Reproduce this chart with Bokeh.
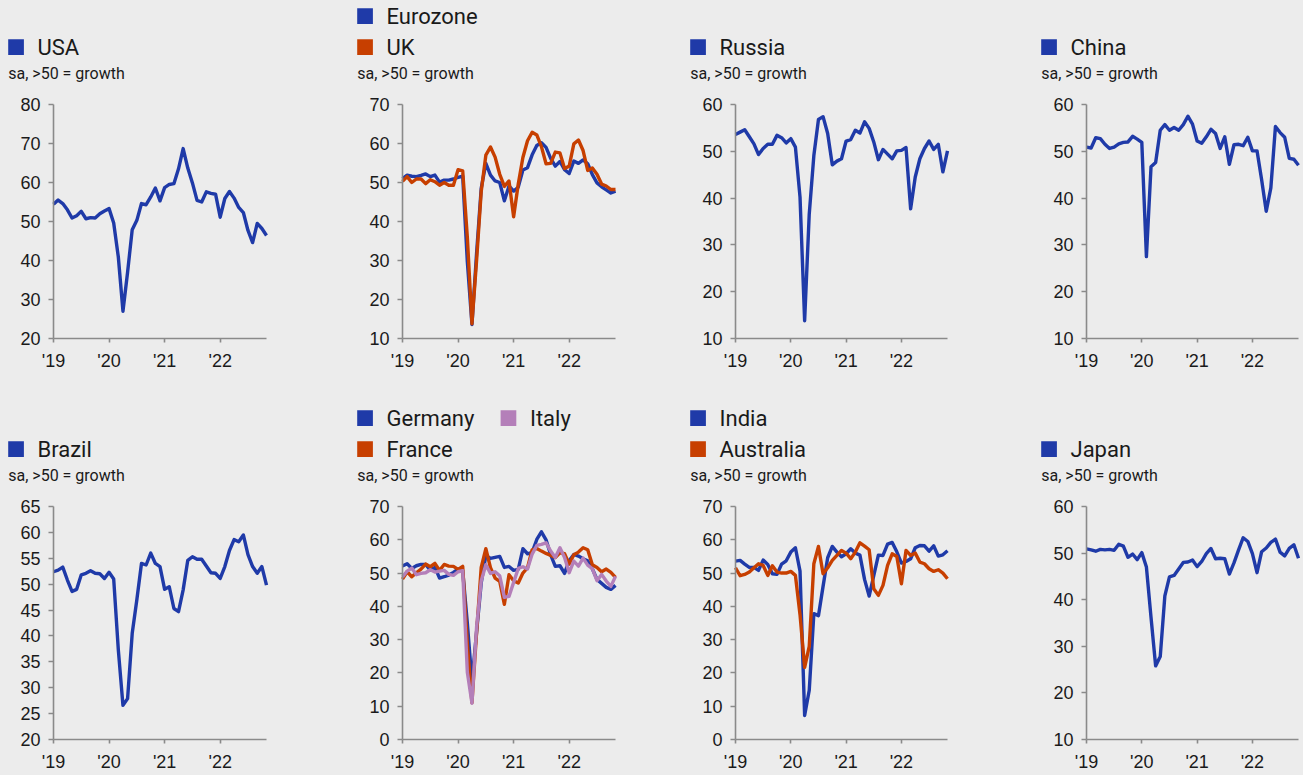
from bokeh.plotting import figure
from bokeh.models import Range1d, FixedTicker, Label, BoxAnnotation
from bokeh.layouts import gridplot
from bokeh.embed import file_html
from bokeh.resources import INLINE

# ---------------- data (composite PMI, sa, Jan 2019 - Nov 2022) ----------------
months = list(range(47))
year_ticks = [0, 12, 24, 36]
year_labels = ["'19", "'20", "'21", "'22"]

usa = [54.4, 55.5, 54.6, 53.0, 50.9, 51.5, 52.6, 50.7, 51.0, 50.9, 52.0, 52.7,
       53.3, 49.6, 40.9, 27.0, 37.0, 47.9, 50.3, 54.6, 54.3, 56.3, 58.6, 55.3,
       58.7, 59.5, 59.7, 63.5, 68.7, 63.7, 59.9, 55.4, 55.0, 57.6, 57.2, 57.0,
       51.1, 55.9, 57.7, 56.0, 53.6, 52.3, 47.7, 44.6, 49.5, 48.2, 46.4]
eurozone = [51.0, 51.9, 51.6, 51.5, 51.8, 52.2, 51.5, 51.9, 50.1, 50.6, 50.6, 50.9,
            51.3, 51.6, 29.7, 13.6, 31.9, 48.5, 54.9, 51.9, 50.4, 50.0, 45.3, 49.1,
            47.8, 48.8, 53.2, 53.8, 57.1, 59.5, 60.2, 59.0, 56.2, 54.2, 55.4, 53.3,
            52.3, 55.5, 54.9, 55.8, 54.8, 52.0, 49.9, 48.9, 48.1, 47.3, 47.8]
uk = [50.3, 51.5, 50.0, 50.9, 50.9, 49.7, 50.7, 50.2, 49.3, 50.0, 49.3, 49.3,
      53.3, 53.0, 36.0, 13.8, 30.0, 47.7, 57.0, 59.1, 56.5, 52.1, 49.0, 50.4,
      41.2, 49.6, 56.4, 60.7, 62.9, 62.2, 59.2, 54.8, 54.9, 57.8, 57.6, 53.6,
      54.2, 59.9, 60.9, 58.2, 53.1, 53.7, 52.1, 49.6, 49.1, 48.2, 48.2]
russia = [53.6, 54.1, 54.6, 53.1, 51.6, 49.3, 50.6, 51.5, 51.5, 53.4, 52.9, 51.8,
          52.7, 50.9, 40.2, 13.8, 36.6, 49.1, 56.8, 57.4, 53.8, 47.1, 47.9, 48.4,
          52.2, 52.5, 54.5, 53.9, 56.3, 54.9, 52.0, 48.2, 50.4, 49.4, 48.4, 50.1,
          50.2, 50.8, 37.7, 44.5, 48.4, 50.6, 52.2, 50.4, 51.5, 45.6, 50.1]
china = [50.9, 50.7, 52.9, 52.7, 51.5, 50.6, 50.9, 51.6, 51.9, 52.0, 53.2, 52.6,
         51.9, 27.5, 46.7, 47.6, 54.5, 55.7, 54.5, 55.1, 54.5, 55.7, 57.5, 55.8,
         52.2, 51.7, 53.1, 54.7, 53.8, 50.6, 53.1, 47.2, 51.4, 51.5, 51.2, 53.0,
         50.1, 50.1, 43.9, 37.2, 42.2, 55.3, 54.0, 53.0, 48.5, 48.3, 47.0]
brazil = [52.4, 52.7, 53.3, 50.8, 48.6, 49.0, 51.8, 52.1, 52.6, 52.1, 52.0, 51.1,
          52.3, 51.0, 37.3, 26.6, 27.9, 40.5, 47.0, 54.0, 53.7, 56.0, 54.0, 53.4,
          49.0, 49.5, 45.3, 44.7, 48.9, 54.6, 55.3, 54.8, 54.8, 53.5, 52.2, 52.1,
          51.1, 53.4, 56.5, 58.6, 58.2, 59.5, 55.7, 53.4, 52.1, 53.4, 49.8]
germany = [52.1, 52.8, 51.4, 52.2, 52.6, 52.6, 50.9, 51.7, 48.5, 48.9, 49.4, 50.2,
           51.2, 50.7, 35.0, 17.4, 32.3, 47.0, 55.3, 54.4, 54.7, 55.0, 51.7, 52.0,
           50.8, 51.1, 57.3, 55.8, 56.2, 60.1, 62.4, 60.0, 55.5, 52.0, 52.2, 49.9,
           53.8, 55.6, 55.1, 54.3, 53.7, 51.3, 48.1, 46.9, 45.7, 45.1, 46.3]
france = [48.2, 50.4, 48.9, 50.1, 51.2, 52.7, 51.9, 52.9, 50.8, 52.6, 52.1, 52.0,
          51.1, 52.0, 28.9, 11.1, 32.1, 51.7, 57.3, 51.6, 48.5, 47.5, 40.6, 49.5,
          47.7, 47.0, 50.0, 51.6, 57.0, 57.4, 56.6, 55.9, 55.3, 54.7, 56.1, 55.8,
          52.7, 55.5, 56.3, 57.6, 57.0, 52.5, 51.7, 50.4, 51.2, 50.2, 48.7]
italy = [48.8, 50.6, 51.5, 49.5, 49.9, 50.1, 51.0, 50.3, 50.6, 50.8, 49.6, 49.3,
         50.4, 50.7, 20.2, 10.9, 33.8, 47.6, 52.5, 49.9, 50.4, 49.2, 42.7, 43.0,
         47.2, 51.4, 51.9, 51.2, 55.7, 58.3, 58.6, 59.1, 56.6, 54.7, 57.6, 54.7,
         50.1, 53.6, 52.1, 54.5, 52.4, 51.3, 47.7, 49.6, 47.6, 46.0, 49.0]
india = [53.6, 53.8, 52.7, 51.7, 51.7, 50.8, 53.9, 52.6, 49.8, 49.6, 52.7, 53.7,
         56.3, 57.6, 50.6, 7.2, 14.8, 37.8, 37.2, 46.0, 54.6, 58.0, 56.3, 54.9,
         55.8, 57.3, 56.0, 55.4, 48.1, 43.1, 49.2, 55.4, 55.3, 58.7, 59.2, 56.4,
         53.0, 53.5, 54.3, 57.6, 58.3, 58.2, 56.6, 58.2, 55.1, 55.5, 56.7]
australia = [51.6, 49.2, 49.6, 50.3, 51.6, 52.8, 52.3, 49.3, 52.2, 50.3, 50.0, 50.0,
             50.5, 49.3, 37.5, 21.7, 28.0, 52.8, 58.0, 49.8, 51.6, 53.8, 55.3, 56.8,
             56.0, 54.3, 56.3, 59.1, 58.1, 57.0, 45.3, 43.3, 46.3, 52.3, 55.8, 55.0,
             46.8, 56.8, 55.3, 56.0, 53.3, 52.8, 51.3, 50.5, 51.0, 50.0, 48.3]
japan = [50.9, 50.7, 50.4, 50.8, 50.7, 50.8, 50.6, 51.9, 51.5, 49.1, 49.8, 48.6,
         50.1, 47.0, 36.2, 25.8, 27.8, 40.8, 44.9, 45.2, 46.6, 48.0, 48.1, 48.5,
         47.1, 48.2, 49.9, 51.0, 48.8, 48.9, 48.8, 45.5, 47.9, 50.7, 53.3, 52.5,
         49.9, 45.8, 50.3, 51.1, 52.3, 53.0, 50.2, 49.4, 51.0, 51.8, 48.9]

subtitle = "sa, >50 = growth"

# ---------------- styling ----------------
BLUE = "#1f3aa8"
ORANGE = "#c73f00"
PURPLE = "#b47fb9"
BG = "#ececec"
AXIS = "#8a8a8a"
TXT = "#1a1a1a"
TICK_FONT = "Liberation Sans"
LABEL_FONT = "Roboto"

panels = [
    ([("USA", usa, BLUE)], (20, 80), 10, [[], [("USA", BLUE, 0)]]),
    ([("Eurozone", eurozone, BLUE), ("UK", uk, ORANGE)], (10, 70), 10,
     [[("Eurozone", BLUE, 0)], [("UK", ORANGE, 0)]]),
    ([("Russia", russia, BLUE)], (10, 60), 10, [[], [("Russia", BLUE, 0)]]),
    ([("China", china, BLUE)], (10, 60), 10, [[], [("China", BLUE, 0)]]),
    ([("Brazil", brazil, BLUE)], (20, 65), 5, [[], [("Brazil", BLUE, 0)]]),
    ([("Germany", germany, BLUE), ("France", france, ORANGE), ("Italy", italy, PURPLE)], (0, 70), 10,
     [[("Germany", BLUE, 0), ("Italy", PURPLE, 143.4)], [("France", ORANGE, 0)]]),
    ([("India", india, BLUE), ("Australia", australia, ORANGE)], (0, 70), 10,
     [[("India", BLUE, 0)], [("Australia", ORANGE, 0)]]),
    ([("Japan", japan, BLUE)], (10, 60), 10, [[], [("Japan", BLUE, 0)]]),
]

# page geometry (pixels)
col_start = [0, 352, 684, 1035]
col_w = [352, 332, 351, 268]
axis_x = [53, 402, 735, 1086]        # page x of the y axis (data x = 0)
plot_w = [213, 213, 212, 212]        # pixels spanned by data x 0..46
row_start = [0, 398]
row_h = [398, 377]
top_y = [104, 506]                   # page y of the top tick
bot_y = [338, 739]                   # page y of the bottom tick / x axis

figs = []
for k, (series, (lo, hi), step, legend_rows) in enumerate(panels):
    r, c = divmod(k, 4)
    W, H = col_w[c], row_h[r]
    ax_rel = axis_x[c] - col_start[c]
    sx = plot_w[c] / 46.0
    sy = (bot_y[r] - top_y[r]) / float(hi - lo)
    above = bot_y[r] - row_start[r]              # px from figure top to x axis
    below = row_start[r] + H - bot_y[r]          # px from x axis to figure bottom
    x_range = Range1d(-ax_rel / sx, (W - ax_rel) / sx)
    y_range = Range1d(lo - below / sy, lo + above / sy)

    p = figure(width=W, height=H, x_range=x_range, y_range=y_range,
               output_backend="svg", toolbar_location=None, title=None,
               min_border_left=0, min_border_right=0,
               min_border_top=0, min_border_bottom=0)
    p.background_fill_color = BG
    p.border_fill_color = BG
    p.outline_line_color = None
    p.xgrid.grid_line_color = None
    p.ygrid.grid_line_color = None

    p.yaxis.fixed_location = 0
    p.xaxis.fixed_location = lo
    p.xaxis.bounds = (0, 46)
    p.yaxis.bounds = (lo, hi)
    p.xaxis.ticker = FixedTicker(ticks=year_ticks)
    p.xaxis.major_label_overrides = {t: l for t, l in zip(year_ticks, year_labels)}
    p.yaxis.ticker = FixedTicker(ticks=list(range(lo, hi + 1, step)))
    for ax in (p.xaxis, p.yaxis):
        ax.axis_line_color = AXIS
        ax.axis_line_width = 1.6
        ax.major_tick_line_color = AXIS
        ax.major_tick_line_width = 1.6
        ax.major_tick_in = 0
        ax.minor_tick_line_color = None
        ax.major_label_text_font = TICK_FONT
        ax.major_label_text_font_size = "18px"
        ax.major_label_text_color = TXT
    p.xaxis.major_tick_out = 4
    p.xaxis.major_label_standoff = 8
    p.yaxis.major_tick_out = 5
    p.yaxis.major_label_standoff = 8

    for name, vals, color in series:
        p.line(months, vals, line_color=color, line_width=3.4, line_join="round")

    # legend & subtitle: screen units inside the frame (x from frame left, y up from frame bottom)
    sq_left = ax_rel - 45.3
    baselines = [top_y[r] - 80.5, top_y[r] - 49.5]
    for li, row in enumerate(legend_rows):
        yb = row_start[r] + H - baselines[li]
        for name, color, dx in row:
            p.add_layout(BoxAnnotation(left=sq_left + dx, right=sq_left + dx + 15.7,
                                       bottom=yb, top=yb + 15.7,
                                       left_units="screen", right_units="screen",
                                       bottom_units="screen", top_units="screen",
                                       fill_color=color, fill_alpha=1.0, line_color=None))
            p.add_layout(Label(x=sq_left + dx + 29.3, y=yb + 8, x_units="screen", y_units="screen",
                               text=name, text_font=LABEL_FONT, text_font_size="22px",
                               text_color=TXT, text_baseline="alphabetic", text_align="left"))
    p.add_layout(Label(x=sq_left, y=row_start[r] + H - (top_y[r] - 26.8) + 4,
                       x_units="screen", y_units="screen",
                       text=subtitle, text_font=LABEL_FONT, text_font_size="16px",
                       text_color=TXT, text_baseline="alphabetic", text_align="left"))
    figs.append(p)

grid = gridplot([figs[:4], figs[4:]], toolbar_location=None)
grid.styles = {"background-color": BG}

open("out.html", "w").write(file_html(grid, INLINE))
